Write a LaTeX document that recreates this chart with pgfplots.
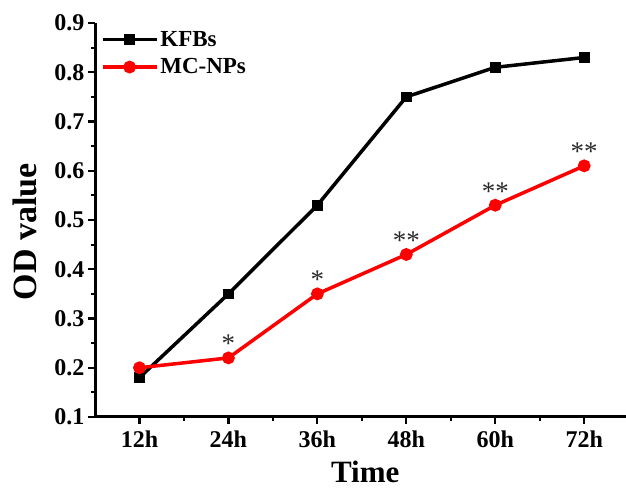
\documentclass[border=0pt]{standalone}
\usepackage{fontspec}
\setmainfont{Liberation Serif}
\usepackage{pgfplots}
\pgfplotsset{compat=1.18}
\definecolor{odred}{HTML}{FF0000}
\definecolor{stargray}{HTML}{2B2B2B}
\newcommand{\TickFont}{\fontsize{24}{28}\selectfont\bfseries}
\newcommand{\StarFont}{\fontsize{27}{28}\selectfont}
\begin{document}
\begin{tikzpicture}
% frame of the whole figure, axis box starts at (0,0)
\useasboundingbox (-95pt,-70pt) rectangle (531pt,417pt);
\begin{axis}[
  at={(0,0)}, anchor=south west,
  scale only axis,
  width=531pt, height=394pt,
  xmin=-0.5, xmax=5.47,
  ymin=0.1, ymax=0.9,
  axis x line*=bottom,
  axis y line*=left,
  axis line style={line width=3pt, -},
  every tick/.style={line width=2.2pt, black},
  tick align=outside,
  major tick length=7pt,
  minor tick length=4pt,
  xtick={0,1,2,3,4,5},
  xticklabels={12h,24h,36h,48h,60h,72h},
  minor xtick={0.5,1.5,2.5,3.5,4.5},
  ytick={0.1,0.2,...,0.9},
  minor ytick={0.15,0.25,...,0.85},
  yticklabel style={/pgf/number format/fixed,/pgf/number format/precision=1, /pgf/number format/fixed zerofill},
  /pgf/number format/assume math mode=true,
  tick label style={font=\TickFont},
  xticklabel style={yshift=-3pt},
  xlabel={Time},
  ylabel={OD value},
  every axis x label/.style={at={(axis description cs:0.509,0)}, yshift=-65pt, anchor=base, inner sep=0pt, font=\fontsize{31}{34}\selectfont\bfseries},
  every axis y label/.style={at={(axis description cs:-0.132,0.47)}, rotate=90, anchor=center, inner sep=0pt, font=\fontsize{34}{36}\selectfont\bfseries},
  legend style={at={(axis description cs:0.005,0.99)}, anchor=north west, draw=none, fill=none,
    font=\fontsize{23}{26}\selectfont\bfseries, row sep=7pt},
  legend cell align=left,
  legend image code/.code={
    \draw[#1, mark repeat=2, mark phase=2] plot coordinates {(0pt,0pt) (27pt,0pt) (54pt,0pt)};
  },
  clip=false,
]
\addplot[black, line width=3.5pt, mark=square*, mark size=3.6pt, mark options={solid}] coordinates {
  (0,0.18) (1,0.35) (2,0.53) (3,0.75) (4,0.81) (5,0.83)
};
\addlegendentry{KFBs}
\addplot[odred, line width=3.5pt, mark=*, mark size=4.6pt, mark options={solid}] coordinates {
  (0,0.20) (1,0.22) (2,0.35) (3,0.43) (4,0.53) (5,0.61)
};
\addlegendentry{MC-NPs}
\node[text=stargray, font=\StarFont, anchor=south, inner sep=0pt] at (axis cs:1,0.22) [yshift=5pt] {*};
\node[text=stargray, font=\StarFont, anchor=south, inner sep=0pt] at (axis cs:2,0.35) [yshift=5pt] {*};
\node[text=stargray, font=\StarFont, anchor=south, inner sep=0pt] at (axis cs:3,0.43) [yshift=5pt] {**};
\node[text=stargray, font=\StarFont, anchor=south, inner sep=0pt] at (axis cs:4,0.53) [yshift=5pt] {**};
\node[text=stargray, font=\StarFont, anchor=south, inner sep=0pt] at (axis cs:5,0.61) [yshift=5pt] {**};
\end{axis}
\end{tikzpicture}
\end{document}
